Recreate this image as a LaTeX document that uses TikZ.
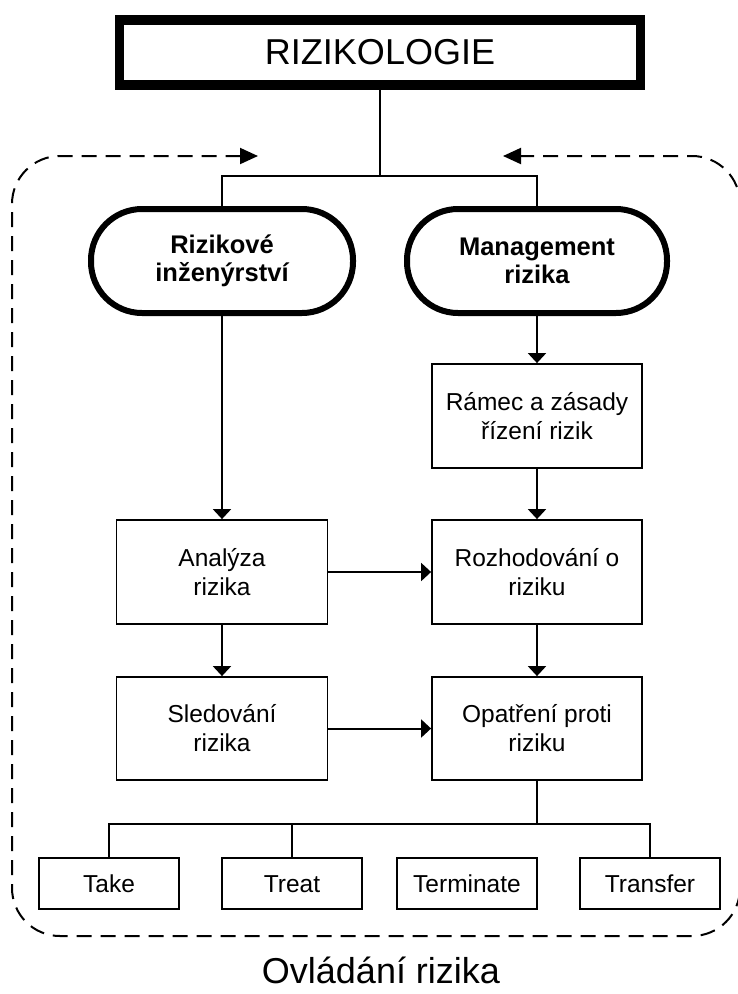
\documentclass[tikz,border=0pt]{standalone}
\usepackage{fontspec}
\setmainfont{Liberation Sans}
\usetikzlibrary{arrows.meta}
\begin{document}
\begin{tikzpicture}[x=1pt,y=-1pt,
  box/.style={draw, line width=1.8pt, inner sep=0pt, align=center,
    font=\fontsize{24.5}{29}\selectfont},
  smallbox/.style={box, minimum width=140pt, minimum height=51pt,
    text height=17.5pt, text depth=0.5pt},
  stadium/.style={draw, line width=6pt, rounded corners=51pt, inner sep=0pt,
    align=center, minimum height=104pt, font=\bfseries\fontsize{25.5}{28}\selectfont},
  conn/.style={line width=2pt},
  arr/.style={line width=2pt, -{Triangle[length=10pt,width=18pt]}},
  dashframe/.style={line width=2pt, dash pattern=on 15pt off 9pt, rounded corners=48pt,
    {Triangle[length=18pt,width=16pt]}-{Triangle[length=18pt,width=16pt]}}
]
\useasboundingbox (0,0) rectangle (737,994);

% top
\node[draw, line width=9.5pt, minimum width=521pt, minimum height=65pt, inner sep=0pt,
  font=\fontsize{36}{40}\selectfont] (top) at (380,52.5) {RIZIKOLOGIE};

% stadiums
\node[stadium, minimum width=262pt] (ri) at (222,261) {Rizikové\\inženýrství};
\node[stadium, minimum width=260pt] (mr) at (537,261) {Management\\rizika};

% boxes
\node[box, minimum width=210pt, minimum height=104pt] (ramec) at (537,416) {Rámec a zásady\\řízení rizik};
\node[box, minimum width=211pt, minimum height=104pt] (analyza) at (222,572) {Analýza\\rizika};
\node[box, minimum width=210pt, minimum height=104pt] (rozh) at (537,572) {Rozhodování o\\riziku};
\node[box, minimum width=211pt, minimum height=103pt] (sled) at (222,728.5) {Sledování\\rizika};
\node[box, minimum width=210pt, minimum height=103pt] (opat) at (537,728.5) {Opatření proti\\riziku};

% bottom boxes
\node[smallbox] (take) at (109,883.5) {Take};
\node[smallbox] (treat) at (292,883.5) {Treat};
\node[smallbox] (term) at (467,883.5) {Terminate};
\node[smallbox] (transfer) at (650,883.5) {Transfer};

% caption
\node[inner sep=0pt, anchor=base, font=\fontsize{36}{40}\selectfont] (cap) at (381,983) {Ovládání rizika};

% connectors top
\coordinate (j) at (380,176);
\draw[conn] (top.south) -- (j);
\draw[conn] (ri.north) -- (ri.north |- j) -- (mr.north |- j) -- (mr.north);

% arrows
\draw[arr] (ri.south) -- (analyza.north);
\draw[arr] (mr.south) -- (ramec.north);
\draw[arr] (ramec.south) -- (rozh.north);
\draw[arr] (analyza.south) -- (sled.north);
\draw[arr] (rozh.south) -- (opat.north);
\draw[arr] (analyza.east) -- (rozh.west);
\draw[arr] (sled.east) -- (opat.west);

% bottom connectors
\coordinate (b) at (537,824);
\draw[conn] (opat.south) -- (b);
\draw[conn] (take.north) -- (take.north |- b) -- (transfer.north |- b) -- (transfer.north);
\draw[conn] (treat.north) -- (treat.north |- b);

% dashed frame
\coordinate (fl) at (258,156);
\coordinate (fr) at (503,156);
\draw[dashframe] (fl) -- (12,156) -- (12,936) -- (740,936) -- (740,156) -- (fr);
\end{tikzpicture}
\end{document}
